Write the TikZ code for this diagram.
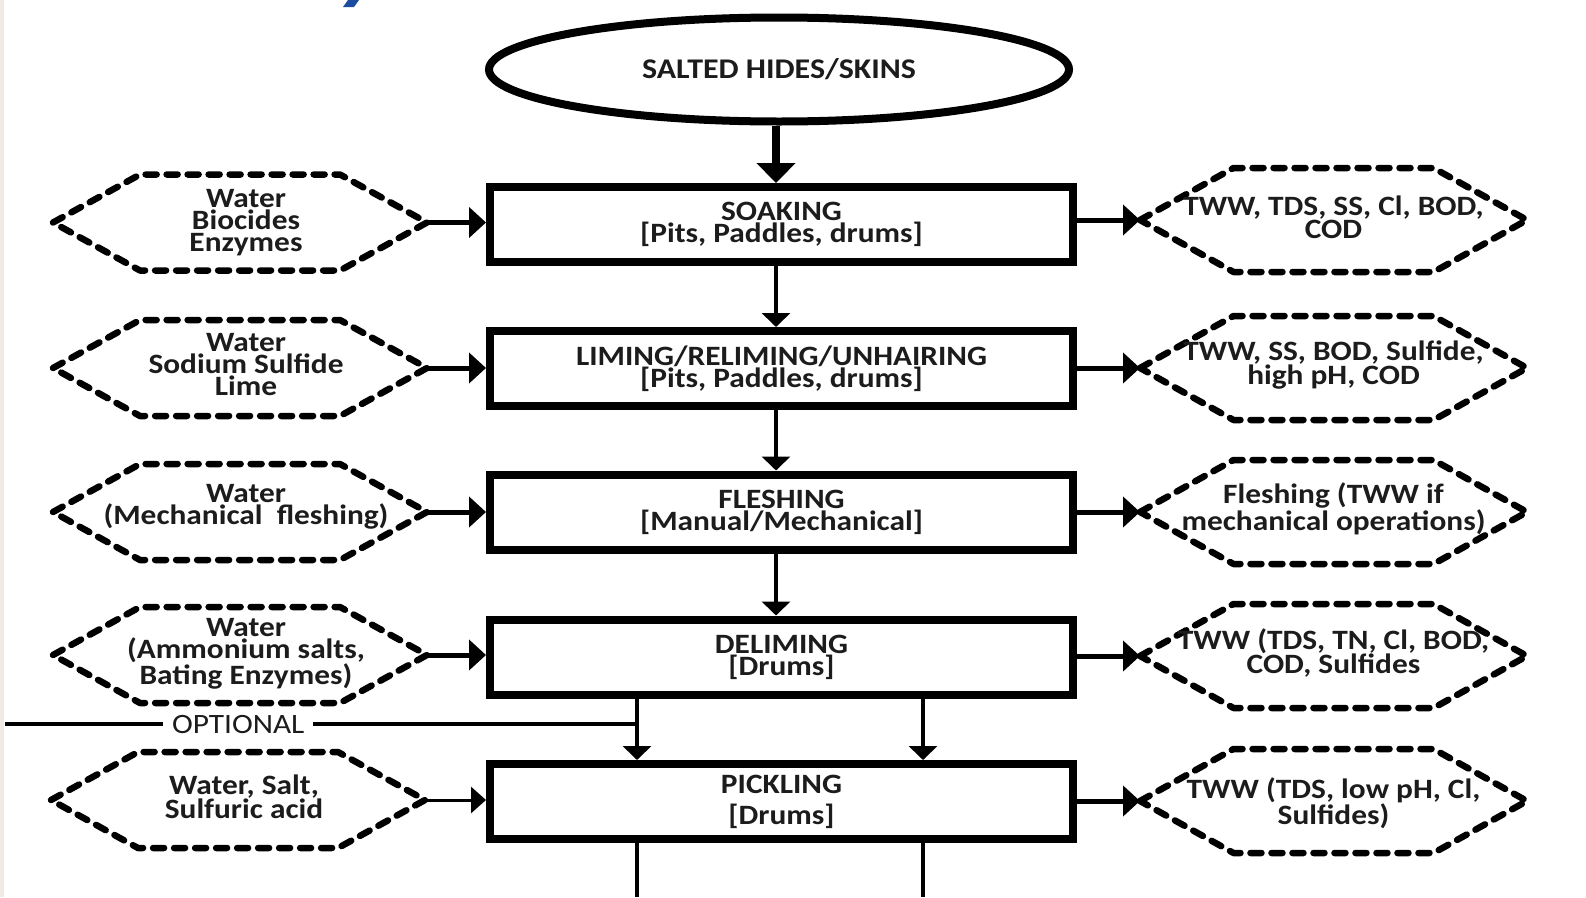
\documentclass[tikz,border=0pt]{standalone}
\usepackage{fontspec}
\setmainfont{Carlito}[FakeStretch=1.12]
\usetikzlibrary{arrows.meta,calc,shapes.geometric}
\definecolor{txt}{HTML}{1C1C1C}
\definecolor{bluefrag}{HTML}{1A4DA1}
\definecolor{edgestrip}{HTML}{EFEAE3}
\newcommand\lefthex[5]{% name, cy, text, text dy, shift
  \coordinate (#1) at (240+#5,#2);
  \draw[hexline] ($(#1)+(-187,0)$) -- ++(87,-48) -- ++(200,0) -- ++(87,48) -- ++(-87,48) -- ++(-200,0) -- cycle;
  \node[hextext] (#1-t) at ($(#1)+(6,#4)$) {#3};
  \coordinate (#1-e) at ($(#1)+(187,0)$);
}
\newcommand\righthex[4]{% name, cy, text, text dy
  \coordinate (#1) at (1333.5,#2);
  \draw[hexline] ($(#1)+(-193.5,0)$) -- ++(93.5,-52) -- ++(200,0) -- ++(93.5,52) -- ++(-93.5,52) -- ++(-200,0) -- cycle;
  \node[hextext] (#1-t) at ($(#1)+(0,#4)$) {#3};
  \coordinate (#1-w) at ($(#1)+(-193.5,0)$);
}
\begin{document}
\begin{tikzpicture}[x=1pt,y=-1pt,
  every node/.style={text=txt, align=center},
  boxtext/.style={font=\fontsize{28}{22}\selectfont\bfseries},
  hextext/.style={font=\fontsize{28}{22}\selectfont\bfseries, inner sep=0pt},
  procbox/.style={draw, line width=8pt, minimum width=583pt, minimum height=75pt, inner sep=0pt, fill=white, boxtext},
  hexline/.style={line width=6.5pt, dash pattern=on 11pt off 10pt, line cap=round, line join=round},
  harrow/.style={line width=5pt, -{Triangle[length=17pt,width=30pt]}},
  harrowthin/.style={line width=3pt, -{Triangle[length=15pt,width=26pt]}},
  varrow/.style={line width=4pt, -{Triangle[length=14pt,width=28pt]}},
  bigarrow/.style={line width=8pt, -{Triangle[length=20pt,width=38pt]}},
  plainline/.style={line width=4pt}
]
\useasboundingbox (0,0) rectangle (1586,897);
\fill[white] (0,0) rectangle (1586,897);
\fill[edgestrip] (0,0) rectangle (4,897);
\fill[bluefrag] (343,7) -- (354,7) -- (359,0) -- (348,0) -- cycle;

% main column
\node[ellipse, draw, line width=8pt, minimum width=580pt, minimum height=104pt, inner sep=0pt, font=\fontsize{28.5}{22}\selectfont\bfseries] (salt) at (779,69.5) {SALTED HIDES/SKINS};
\node[procbox] (soak) at (781.5,224.5) {SOAKING\\{[Pits, Paddles, drums]}};
\node[procbox] (lime) at (781.5,368.5) {LIMING/RELIMING/UNHAIRING\\{[Pits, Paddles, drums]}};
\node[procbox] (flesh) at (781.5,512) {FLESHING\\{[Manual/Mechanical]}};
\node[procbox] (delime) at (781.5,657) {DELIMING\\{[Drums]}};
\node[procbox, font=\fontsize{28}{31}\selectfont\bfseries] (pickle) at (781.5,801.5) {PICKLING\\{[Drums]}};

\draw[bigarrow] ([xshift=-3pt]salt.south) -- ([xshift=-5.5pt]soak.north);
\draw[varrow] ([xshift=-5.5pt]soak.south) -- ([xshift=-5.5pt]lime.north);
\draw[varrow] ([xshift=-5.5pt]lime.south) -- ([xshift=-5.5pt]flesh.north);
\draw[varrow] ([xshift=-5.5pt]flesh.south) -- ([xshift=-5.5pt]delime.north);

% optional branch
\coordinate (optS) at (5,724);
\coordinate (optJ) at (637,724);
\coordinate (optR) at (923,724);
\coordinate (botL) at (637,897);
\coordinate (botR) at (923,897);
\draw[plainline] (optS) -- node[pos=0.369, fill=white, inner sep=9pt, font=\fontsize{28}{22}\selectfont] (opt) {OPTIONAL} (optJ);
\draw[varrow] (delime.south -| optJ) -- (pickle.north -| optJ);
\draw[varrow] (delime.south -| optR) -- (pickle.north -| optR);
\draw[plainline] (pickle.south -| botL) -- (botL);
\draw[plainline] (pickle.south -| botR) -- (botR);

% input hexagons
\lefthex{inA}{222.5}{Water\\Biocides\\Enzymes}{0}{0}
\lefthex{inB}{368}{Water\\Sodium Sulfide\\Lime}{-3}{0}
\lefthex{inC}{512}{Water\\(Mechanical\ \ fleshing)}{-5}{0}
\lefthex{inD}{655}{Water\\(Ammonium salts,\\Bating Enzymes)}{-1}{0}
\lefthex{inE}{800}{Water, Salt,\\Sulfuric acid}{-3}{-2}

% output hexagons
\righthex{outA}{220}{TWW, TDS, SS, Cl, BOD,\\COD}{-3}
\righthex{outB}{368}{TWW, SS, BOD, Sulfide,\\high pH, COD}{-3}
\righthex{outC}{512}{Fleshing (TWW if\\mechanical operations)}{-3}
\righthex{outD}{656}{TWW (TDS, TN, Cl, BOD,\\COD, Sulfides}{-3}
\righthex{outE}{801}{TWW (TDS, low pH, Cl,\\Sulfides)}{2}

% input arrows
\draw[harrow] (inA-e) -- (inA-e -| soak.west);
\draw[harrow] (inB-e) -- (inB-e -| lime.west);
\draw[harrow] (inC-e) -- (inC-e -| flesh.west);
\draw[harrow] (inD-e) -- (inD-e -| delime.west);
\draw[harrowthin] (inE-e) -- (inE-e -| pickle.west);

% output arrows
\draw[harrow] (outA-w -| soak.east) -- (outA-w);
\draw[harrow] (outB-w -| lime.east) -- (outB-w);
\draw[harrow] (outC-w -| flesh.east) -- (outC-w);
\draw[harrow] (outD-w -| delime.east) -- (outD-w);
\draw[harrow] (outE-w -| pickle.east) -- (outE-w);
\end{tikzpicture}
\end{document}
